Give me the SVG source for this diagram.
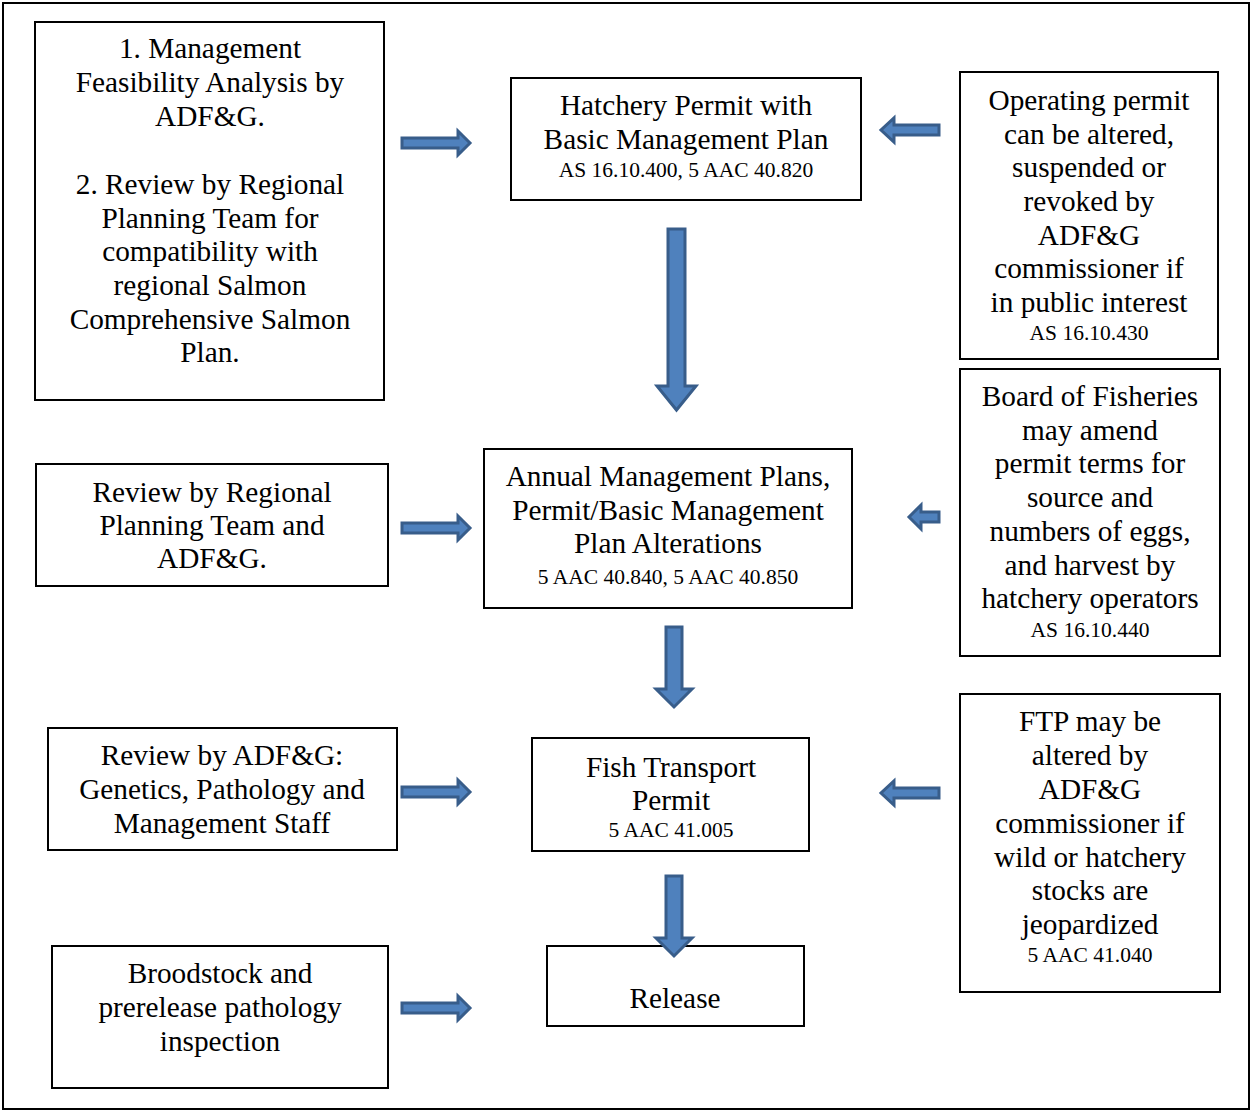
<svg xmlns="http://www.w3.org/2000/svg" width="1252" height="1112" viewBox="0 0 1252 1112">
<style>
.box{fill:#fff;stroke:#000;stroke-width:2}
.t{font-family:"Liberation Serif","Times New Roman",serif;font-size:29.3px;fill:#000;text-anchor:middle}
.s{font-family:"Liberation Serif","Times New Roman",serif;font-size:21.5px;fill:#000;text-anchor:middle}
.arr{fill:#4f81bd;stroke:#385d8a;stroke-width:3;stroke-linejoin:miter}
</style>
<rect x="0" y="0" width="1252" height="1112" fill="#fff"/>
<rect x="3" y="3" width="1246" height="1106" fill="none" stroke="#000" stroke-width="2"/>

<g id="n-feasibility">
<rect class="box" x="35" y="22" width="349" height="378"/>
<text class="t" x="210" y="58">1. Management</text>
<text class="t" x="210" y="92">Feasibility Analysis by</text>
<text class="t" x="210" y="126">ADF&amp;G.</text>
<text class="t" x="210" y="194">2. Review by Regional</text>
<text class="t" x="210" y="228">Planning Team for</text>
<text class="t" x="210" y="261">compatibility with</text>
<text class="t" x="210" y="295">regional Salmon</text>
<text class="t" x="210" y="329">Comprehensive Salmon</text>
<text class="t" x="210" y="362">Plan.</text>
</g>

<g id="n-hatchery">
<rect class="box" x="511" y="78" width="350" height="122"/>
<text class="t" x="686" y="115">Hatchery Permit with</text>
<text class="t" x="686" y="149">Basic Management Plan</text>
<text class="s" x="686" y="177">AS 16.10.400, 5 AAC 40.820</text>
</g>

<g id="n-operating">
<rect class="box" x="960" y="72" width="258" height="287"/>
<text class="t" x="1089" y="110">Operating permit</text>
<text class="t" x="1089" y="144">can be altered,</text>
<text class="t" x="1089" y="177">suspended or</text>
<text class="t" x="1089" y="211">revoked by</text>
<text class="t" x="1089" y="245">ADF&amp;G</text>
<text class="t" x="1089" y="278">commissioner if</text>
<text class="t" x="1089" y="312">in public interest</text>
<text class="s" x="1089" y="340">AS 16.10.430</text>
</g>

<g id="n-annual">
<rect class="box" x="484" y="449" width="368" height="159"/>
<text class="t" x="668" y="486">Annual Management Plans,</text>
<text class="t" x="668" y="520">Permit/Basic Management</text>
<text class="t" x="668" y="553">Plan Alterations</text>
<text class="s" x="668" y="584">5 AAC 40.840, 5 AAC 40.850</text>
</g>

<g id="n-review-rpt">
<rect class="box" x="36" y="464" width="352" height="122"/>
<text class="t" x="212" y="502">Review by Regional</text>
<text class="t" x="212" y="535">Planning Team and</text>
<text class="t" x="212" y="568">ADF&amp;G.</text>
</g>

<g id="n-board">
<rect class="box" x="960" y="369" width="260" height="287"/>
<text class="t" x="1090" y="406">Board of Fisheries</text>
<text class="t" x="1090" y="440">may amend</text>
<text class="t" x="1090" y="473">permit terms for</text>
<text class="t" x="1090" y="507">source and</text>
<text class="t" x="1090" y="541">numbers of eggs,</text>
<text class="t" x="1090" y="575">and harvest by</text>
<text class="t" x="1090" y="608">hatchery operators</text>
<text class="s" x="1090" y="637">AS 16.10.440</text>
</g>

<g id="n-review-adfg">
<rect class="box" x="48" y="728" width="349" height="122"/>
<text class="t" x="222" y="765">Review by ADF&amp;G:</text>
<text class="t" x="222" y="799">Genetics, Pathology and</text>
<text class="t" x="222" y="833">Management Staff</text>
</g>

<g id="n-fishtransport">
<rect class="box" x="532" y="738" width="277" height="113"/>
<text class="t" x="671" y="777">Fish Transport</text>
<text class="t" x="671" y="810">Permit</text>
<text class="s" x="671" y="837">5 AAC 41.005</text>
</g>

<g id="n-ftp">
<rect class="box" x="960" y="694" width="260" height="298"/>
<text class="t" x="1090" y="731">FTP may be</text>
<text class="t" x="1090" y="765">altered by</text>
<text class="t" x="1090" y="799">ADF&amp;G</text>
<text class="t" x="1090" y="833">commissioner if</text>
<text class="t" x="1090" y="867">wild or hatchery</text>
<text class="t" x="1090" y="900">stocks are</text>
<text class="t" x="1090" y="934">jeopardized</text>
<text class="s" x="1090" y="962">5 AAC 41.040</text>
</g>

<g id="n-broodstock">
<rect class="box" x="52" y="946" width="336" height="142"/>
<text class="t" x="220" y="983">Broodstock and</text>
<text class="t" x="220" y="1017">prerelease pathology</text>
<text class="t" x="220" y="1051">inspection</text>
</g>

<g id="n-release">
<rect class="box" x="547" y="946" width="257" height="80"/>
<text class="t" x="675" y="1008">Release</text>
</g>

<g id="connectors">
<polygon class="arr" points="402,138 458,138 458,131 470,143 458,155 458,148 402,148"/>
<polygon class="arr" points="939,125 894,125 894,118 881,130 894,142 894,135 939,135"/>
<polygon class="arr" points="668,229 685,229 685,386 696,386 676.5,410 657,386 668,386"/>
<polygon class="arr" points="402,523 458,523 458,516 470,528 458,540 458,533 402,533"/>
<polygon class="arr" points="939,512 921,512 921,505 909,517 921,529 921,522 939,522"/>
<polygon class="arr" points="666,627 682,627 682,689 692,689 674,707 656,689 666,689"/>
<polygon class="arr" points="402,787 458,787 458,780 470,792 458,804 458,797 402,797"/>
<polygon class="arr" points="939,788 894,788 894,781 881,793 894,805 894,798 939,798"/>
<polygon class="arr" points="666,876 682,876 682,938 692,938 674,956 656,938 666,938"/>
<polygon class="arr" points="402,1003 458,1003 458,996 470,1008 458,1020 458,1013 402,1013"/>
</g>
</svg>
